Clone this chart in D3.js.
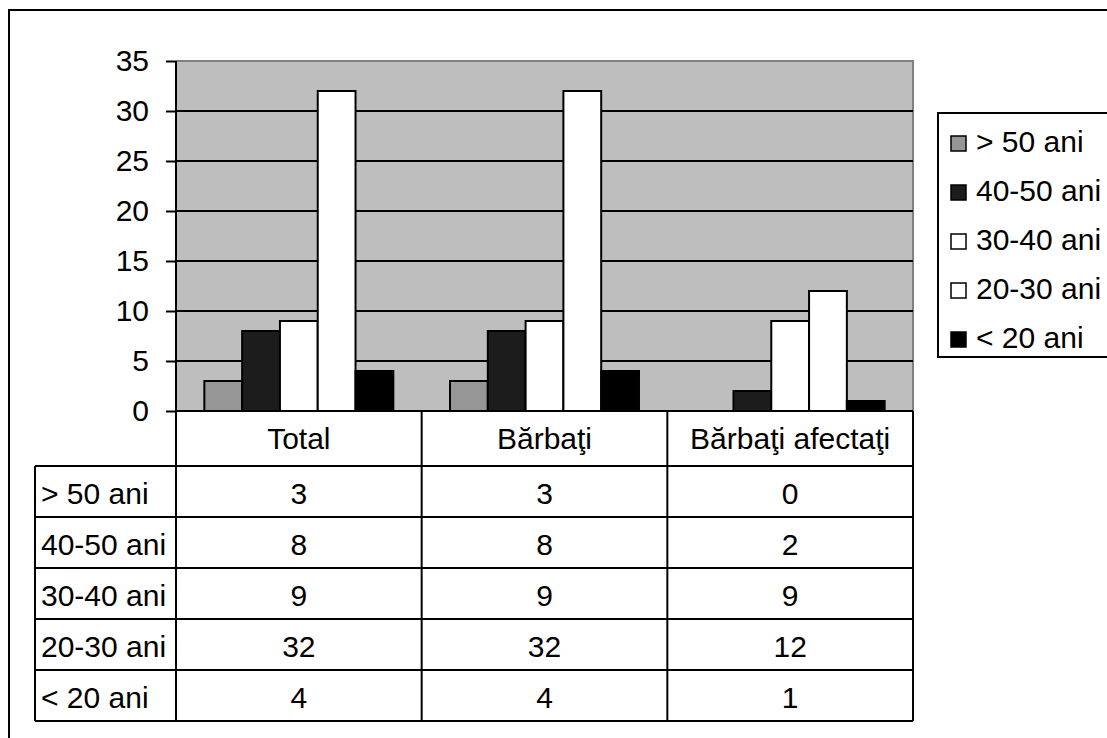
<!DOCTYPE html>
<html>
<head>
<meta charset="utf-8">
<script src="https://cdn.jsdelivr.net/npm/d3@7"></script>
<style>
  body { margin: 0; background: #fff; }
  svg { display: block; font-family: "Liberation Sans", Arial, sans-serif; }
  svg text { font-size: 30px; fill: #000; }
</style>
</head>
<body>
<svg id="chart" width="1107" height="738"></svg>
<script>
// Age groups per category
const categories = ["Total", "Bărbaţi", "Bărbaţi afectaţi"];
const series = ["> 50 ani", "40-50 ani", "30-40 ani", "20-30 ani", "< 20 ani"];
const valsOver50 = [3, 3, 0];
const vals40to50 = [8, 8, 2];
const vals30to40 = [9, 9, 9];
const vals20to30 = [32, 32, 12];
const valsUnder20 = [4, 4, 1];
const seriesColors = ["#969696", "#1c1c1c", "#ffffff", "#ffffff", "#000000"];
const yTicks = [0, 5, 10, 15, 20, 25, 30, 35];

const values = [valsOver50, vals40to50, vals30to40, vals20to30, valsUnder20];

const svg = d3.select("#chart");
const FS = 30;

// Outer chart frame
svg.append("rect")
  .attr("x", 9).attr("y", 10).attr("width", 1130).attr("height", 760)
  .attr("fill", "#fff").attr("stroke", "#000").attr("stroke-width", 2);

const plot = { left: 176, right: 913, top: 61, bottom: 411 };

const x0 = d3.scaleBand().domain(categories).range([plot.left, plot.right]).padding(0);
const x1 = d3.scaleBand().domain(series).range([0, x0.bandwidth()])
  .paddingInner(0).paddingOuter(0.75);
const y = d3.scaleLinear().domain([0, 35]).range([plot.bottom, plot.top]);

// Plot background
svg.append("rect")
  .attr("x", plot.left).attr("y", plot.top)
  .attr("width", plot.right - plot.left).attr("height", plot.bottom - plot.top)
  .attr("fill", "#bebebe");
svg.append("path")
  .attr("d", `M${plot.left},${plot.top}H${plot.right}V${plot.bottom}`)
  .attr("fill", "none").attr("stroke", "#808080").attr("stroke-width", 2);

// Gridlines
svg.append("g").selectAll("line")
  .data(yTicks.filter(t => t > 0 && t < 35))
  .join("line")
  .attr("x1", plot.left).attr("x2", plot.right)
  .attr("y1", d => y(d)).attr("y2", d => y(d))
  .attr("stroke", "#000").attr("stroke-width", 2);

// Bars
const barData = [];
categories.forEach((c, ci) => {
  series.forEach((s, si) => {
    barData.push({ c, s, v: values[si][ci], color: seriesColors[si] });
  });
});
svg.append("g").selectAll("rect")
  .data(barData.filter(d => d.v > 0))
  .join("rect")
  .attr("x", d => x0(d.c) + x1(d.s))
  .attr("y", d => y(d.v))
  .attr("width", x1.bandwidth())
  .attr("height", d => y(0) - y(d.v))
  .attr("fill", d => d.color)
  .attr("stroke", "#000").attr("stroke-width", 2);

// Baseline
svg.append("line")
  .attr("x1", plot.left).attr("x2", plot.right)
  .attr("y1", y(0)).attr("y2", y(0))
  .attr("stroke", "#000").attr("stroke-width", 2);

// Y axis
const yAxis = svg.append("g")
  .attr("transform", `translate(${plot.left},0)`)
  .call(d3.axisLeft(y).tickValues(yTicks).tickSize(10).tickPadding(17).tickSizeOuter(0));
yAxis.attr("font-size", FS).attr("font-family", null);
yAxis.select(".domain").remove();
yAxis.selectAll(".tick line").attr("stroke", "#000").attr("stroke-width", 2);
yAxis.selectAll(".tick text").attr("fill", "#000").style("font-size", FS + "px");

// Data table
const headerBottom = 466;
const rowH = 51;
const tableLeft = 35;
const tableBottom = headerBottom + rowH * series.length;
const colEdges = categories.map(c => x0(c)).concat([plot.right]);

const table = svg.append("g");
// Vertical axis line running through the table
table.append("line")
  .attr("x1", plot.left).attr("x2", plot.left)
  .attr("y1", plot.top).attr("y2", tableBottom)
  .attr("stroke", "#000").attr("stroke-width", 2);
// Column separators
table.selectAll("line.col")
  .data(colEdges.slice(1))
  .join("line").attr("class", "col")
  .attr("x1", d => d).attr("x2", d => d)
  .attr("y1", plot.bottom).attr("y2", tableBottom)
  .attr("stroke", "#000").attr("stroke-width", 2);
table.append("line")
  .attr("x1", tableLeft).attr("x2", tableLeft)
  .attr("y1", headerBottom).attr("y2", tableBottom)
  .attr("stroke", "#000").attr("stroke-width", 2);
// Row separators
table.selectAll("line.row")
  .data(d3.range(series.length + 1))
  .join("line").attr("class", "row")
  .attr("x1", tableLeft).attr("x2", plot.right)
  .attr("y1", i => headerBottom + i * rowH).attr("y2", i => headerBottom + i * rowH)
  .attr("stroke", "#000").attr("stroke-width", 2);

// Header labels
table.selectAll("text.head")
  .data(categories)
  .join("text").attr("class", "head")
  .attr("x", d => x0(d) + x0.bandwidth() / 2)
  .attr("y", (plot.bottom + headerBottom) / 2 + 3)
  .attr("text-anchor", "middle").attr("dominant-baseline", "middle")
  .text(d => d);

// Row labels and values
series.forEach((s, si) => {
  const cy = headerBottom + si * rowH + rowH / 2 + 5;
  table.append("text")
    .attr("x", tableLeft + 6).attr("y", cy)
    .attr("dominant-baseline", "middle")
    .text(s);
  categories.forEach((c, ci) => {
    table.append("text")
      .attr("x", x0(c) + x0.bandwidth() / 2).attr("y", cy)
      .attr("text-anchor", "middle").attr("dominant-baseline", "middle")
      .text(values[si][ci]);
  });
});

// Legend
const legend = svg.append("g");
legend.append("rect")
  .attr("x", 938).attr("y", 113).attr("width", 200).attr("height", 244)
  .attr("fill", "#fff").attr("stroke", "#000").attr("stroke-width", 2);
const legendY = d3.scalePoint().domain(series).range([143, 339]);
series.forEach((s, si) => {
  const cy = legendY(s);
  legend.append("rect")
    .attr("x", 951).attr("y", cy - 7).attr("width", 15).attr("height", 15)
    .attr("fill", seriesColors[si]).attr("stroke", "#000").attr("stroke-width", 1.5);
  legend.append("text")
    .attr("x", 976).attr("y", cy + 1)
    .attr("dominant-baseline", "middle")
    .text(s);
});
</script>
</body>
</html>
